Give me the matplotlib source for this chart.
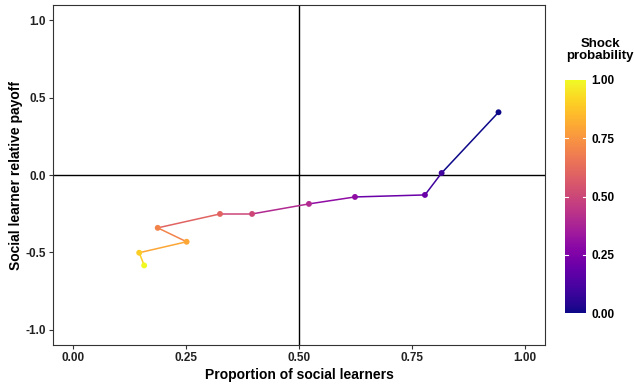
import numpy as np
import matplotlib.pyplot as plt
from matplotlib.collections import LineCollection
from matplotlib import cm, colors

plt.rcParams['font.family'] = ['Liberation Sans', 'DejaVu Sans']

# data
shock = [0.0, 0.1, 0.2, 0.3, 0.4, 0.5, 0.6, 0.7, 0.8, 0.9, 1.0]
prop_social = [0.942, 0.816, 0.779, 0.624, 0.522, 0.396, 0.325, 0.187, 0.251, 0.146, 0.157]
rel_payoff = [0.406, 0.013, -0.129, -0.142, -0.187, -0.252, -0.252, -0.342, -0.432, -0.503, -0.585]

xticks = [0.0, 0.25, 0.5, 0.75, 1.0]
yticks = [-1.0, -0.5, 0.0, 0.5, 1.0]

cmap = cm.plasma
norm = colors.Normalize(0, 1)

fig = plt.figure(figsize=(6.34, 3.85), dpi=100)
ax = fig.add_axes([53/634, 40/385, 492/634, 340/385])

ax.axvline(0.5, color='black', lw=1, zorder=1)
ax.axhline(0.0, color='black', lw=1, zorder=1)

pts = np.column_stack([prop_social, rel_payoff])
segs = np.stack([pts[:-1], pts[1:]], axis=1)
lc = LineCollection(segs, cmap=cmap, norm=norm, linewidths=1.1, zorder=2)
lc.set_array(np.array(shock[:-1]))
ax.add_collection(lc)
sc = ax.scatter(prop_social, rel_payoff, c=shock, cmap=cmap, norm=norm, s=18, zorder=3, linewidths=0)

ax.set_xlim(-0.045, 1.045)
ax.set_ylim(-1.1, 1.1)
ax.set_xticks(xticks)
ax.set_xticklabels(['%.2f' % v for v in xticks])
ax.set_yticks(yticks)
ax.set_yticklabels(['%.1f' % v if v != 0 else '0.0' for v in yticks])
ax.tick_params(length=3, width=0.8, color='#333333', labelsize=8.5, labelcolor='#222222', pad=2)
for lab in ax.get_xticklabels() + ax.get_yticklabels():
    lab.set_fontweight('bold')
for s in ax.spines.values():
    s.set_color('#333333')
    s.set_linewidth(0.8)

ax.set_xlabel('Proportion of social learners', fontsize=10, fontweight='bold', labelpad=3)
ax.set_ylabel('Social learner relative payoff', fontsize=10, fontweight='bold', labelpad=2)

cax = fig.add_axes([565/634, 72/385, 21/634, 233/385])
cb = fig.colorbar(sc, cax=cax, ticks=[0, 0.25, 0.5, 0.75, 1.0])
cb.outline.set_visible(False)
cb.ax.set_yticklabels(['0.00', '0.25', '0.50', '0.75', '1.00'])
cb.ax.tick_params(length=0, labelsize=8.5, pad=4)
for lab in cb.ax.get_yticklabels():
    lab.set_fontweight('bold')
for v in [0.25, 0.5, 0.75]:
    cb.ax.plot([0, 0.15], [v, v], color='white', lw=0.8, transform=cb.ax.get_yaxis_transform())
    cb.ax.plot([0.85, 1], [v, v], color='white', lw=0.8, transform=cb.ax.get_yaxis_transform())
fig.text(600/634, 1 - 50/385, 'Shock\nprobability', ha='center', va='center',
         fontsize=9.5, fontweight='bold', linespacing=1.0)

fig.savefig('out.png', dpi=100)
